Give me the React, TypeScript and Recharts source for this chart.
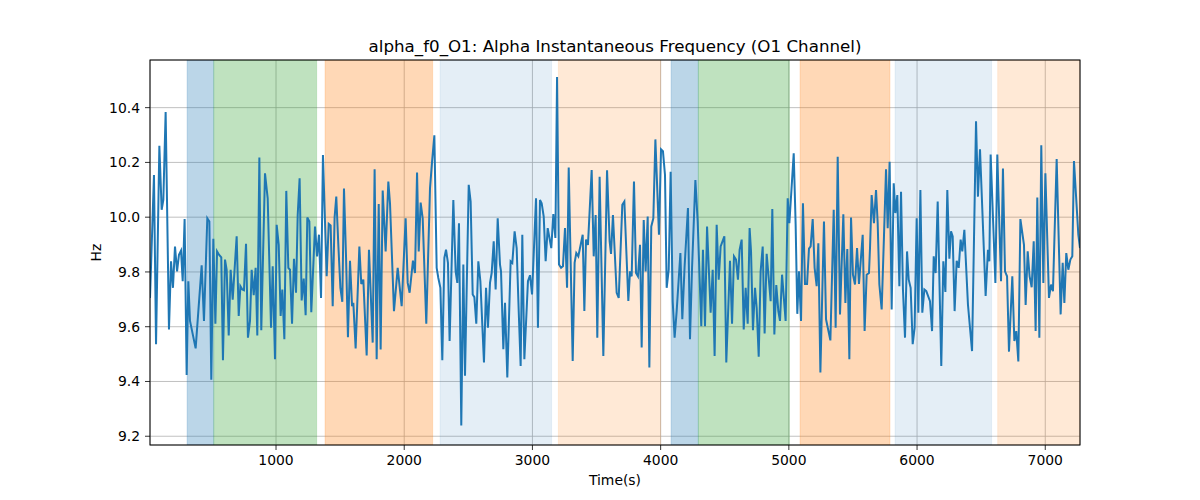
import React from "react";
import { LineChart, Line, XAxis, YAxis, CartesianGrid, ReferenceArea } from "recharts";

const chartTitle = "alpha_f0_O1: Alpha Instantaneous Frequency (O1 Channel)";
const xLabel = "Time(s)";
const yLabel = "Hz";

const xTicks = [1000, 2000, 3000, 4000, 5000, 6000, 7000];
const yTicks = [9.2, 9.4, 9.6, 9.8, 10.0, 10.2, 10.4];
const xDomain: [number, number] = [17, 7271];
const yDomain: [number, number] = [9.168, 10.574];

// [time (s), frequency (Hz)]
const alphaF0Points: [number, number][] = [
  [17, 9.705], [48, 10.154], [64, 9.536], [90, 10.261], [108, 10.027], [121, 10.063], [139, 10.384], [165, 9.59], [181, 9.839], [196, 9.742],
  [212, 9.893], [228, 9.802], [243, 9.863], [259, 9.878], [272, 9.766], [287, 9.993], [303, 9.424], [316, 9.766], [329, 9.621], [373, 9.521],
  [420, 9.824], [438, 9.621], [464, 9.996], [480, 9.984], [495, 9.406], [511, 9.921], [527, 9.611], [540, 9.875], [555, 9.863], [573, 9.853],
  [586, 9.478], [602, 9.845], [615, 9.808], [631, 9.568], [646, 9.808], [662, 9.699], [693, 9.93], [709, 9.639], [722, 9.748], [737, 9.736],
  [750, 9.733], [766, 9.903], [781, 9.56], [797, 9.621], [810, 9.808], [826, 9.715], [841, 9.815], [854, 9.568], [870, 10.218], [885, 9.587],
  [914, 10.16], [935, 10.069],
  [961, 9.596], [974, 9.821], [992, 9.481], [1005, 9.972], [1021, 9.899], [1036, 9.639], [1049, 9.736], [1065, 9.554], [1080, 10.096], [1096, 9.815],
  [1109, 9.808], [1125, 9.611], [1140, 9.848], [1156, 9.724], [1169, 10.008], [1184, 10.142], [1200, 9.696], [1216, 9.776], [1231, 9.642], [1244, 9.999],
  [1260, 9.984], [1275, 9.653], [1304, 9.966], [1320, 9.857], [1335, 9.936], [1351, 9.705], [1366, 10.227], [1395, 9.784], [1411, 9.976], [1426, 9.97],
  [1442, 9.675], [1457, 10.0], [1470, 10.075], [1486, 9.899], [1502, 9.742], [1517, 9.691], [1530, 10.105], [1546, 9.857], [1561, 9.562], [1577, 9.841],
  [1593, 9.675], [1603, 9.687], [1621, 9.521], [1650, 9.893], [1665, 9.756], [1681, 9.772], [1707, 9.495], [1725, 9.881], [1754, 9.542], [1769, 10.175],
  [1785, 9.481], [1801, 10.048], [1816, 9.517], [1832, 10.097], [1855, 9.875], [1876, 10.13],
  [1889, 10.051], [1920, 9.657], [1949, 9.815], [1980, 9.675], [2011, 9.996], [2027, 9.76], [2042, 9.724], [2068, 9.841], [2084, 9.796], [2100, 10.163],
  [2113, 9.875], [2128, 10.053], [2144, 9.996], [2172, 9.611], [2201, 10.105], [2217, 10.202], [2235, 10.299], [2253, 9.815], [2266, 9.778], [2282, 9.742],
  [2297, 9.478], [2313, 9.851], [2326, 9.881], [2341, 9.833], [2354, 9.548], [2383, 10.063], [2401, 9.802], [2414, 9.76], [2427, 9.978], [2445, 9.239],
  [2461, 9.827], [2474, 9.421], [2503, 10.118], [2518, 10.057], [2534, 9.718], [2547, 9.708], [2562, 9.611], [2578, 9.839], [2594, 9.766], [2622, 9.469],
  [2638, 9.742], [2653, 9.596], [2669, 9.76], [2682, 9.796], [2698, 9.912], [2713, 9.736], [2729, 9.996], [2747, 9.827], [2755, 9.802], [2773, 9.518],
  [2786, 9.687], [2804, 9.415],
  [2830, 9.839], [2843, 9.833], [2861, 9.948], [2877, 9.887], [2893, 9.657], [2908, 9.457], [2921, 9.936], [2937, 9.481], [2965, 9.766], [2981, 9.788],
  [2997, 9.718], [3028, 10.069], [3043, 9.596], [3059, 10.063], [3072, 10.051], [3088, 10.002], [3103, 9.839], [3119, 9.96], [3147, 9.887], [3163, 10.011],
  [3179, 9.924], [3192, 10.512], [3207, 9.827], [3223, 9.815], [3238, 9.821], [3254, 9.96], [3270, 9.742], [3283, 10.181], [3314, 9.475], [3329, 9.833],
  [3342, 9.869], [3358, 9.857], [3392, 9.936], [3405, 9.657], [3418, 9.918], [3433, 9.899], [3462, 10.172], [3478, 9.857], [3493, 10.008], [3506, 9.56],
  [3524, 10.148], [3553, 9.493], [3582, 10.171], [3602, 9.912], [3613, 9.866], [3628, 10.008], [3657, 9.724], [3673, 9.705], [3701, 10.045], [3717, 10.057],
  [3748, 9.694], [3761, 9.802],
  [3774, 9.784], [3792, 10.13], [3808, 9.796], [3823, 9.784], [3839, 9.899], [3852, 9.524], [3868, 9.99], [3883, 9.802], [3899, 10.002], [3912, 9.451],
  [3927, 9.966], [3943, 9.996], [3959, 10.284], [3987, 9.936], [4003, 10.248], [4018, 10.241], [4034, 10.154], [4047, 9.742], [4063, 9.808], [4078, 10.166],
  [4094, 9.693], [4109, 9.56], [4125, 9.657], [4154, 9.869], [4169, 9.627], [4187, 9.821], [4213, 10.033], [4229, 9.554], [4245, 9.815], [4271, 10.136],
  [4289, 9.984], [4317, 9.602], [4330, 9.881], [4346, 9.602], [4362, 9.966], [4390, 9.651], [4406, 9.808], [4421, 9.493], [4437, 9.972], [4453, 9.772],
  [4468, 9.893], [4497, 9.93], [4512, 9.469], [4541, 9.841], [4557, 9.611], [4572, 9.857], [4588, 9.845], [4603, 9.772], [4616, 9.881], [4632, 9.918],
  [4648, 9.59], [4663, 9.742], [4679, 9.611], [4694, 9.96],
  [4705, 9.875], [4720, 9.587], [4736, 9.742], [4749, 9.669], [4765, 9.49], [4780, 9.802], [4796, 9.893], [4811, 9.575], [4827, 9.866], [4858, 9.693],
  [4871, 10.03], [4887, 9.572], [4902, 9.752], [4918, 9.657], [4931, 9.621], [4947, 9.79], [4975, 9.621], [4991, 10.069], [5004, 9.978], [5038, 10.233],
  [5053, 9.972], [5066, 9.647], [5079, 9.802], [5095, 9.621], [5110, 10.051], [5126, 9.756], [5142, 9.756], [5157, 9.885], [5170, 9.893], [5186, 9.993],
  [5201, 9.815], [5217, 9.748], [5230, 9.905], [5246, 9.433], [5274, 9.984], [5290, 9.627], [5324, 9.55], [5350, 10.027], [5365, 9.596], [5381, 10.221],
  [5399, 9.645], [5425, 10.011], [5441, 9.687], [5456, 9.884], [5472, 9.481], [5485, 9.999], [5500, 9.79], [5516, 9.754], [5532, 9.887], [5547, 9.756],
  [5576, 9.936], [5591, 9.584], [5607, 9.79], [5625, 9.796],
  [5633, 9.887], [5646, 10.081], [5664, 9.978], [5680, 10.099], [5693, 9.978], [5706, 9.754], [5724, 9.663], [5742, 9.93], [5758, 10.175], [5771, 9.96],
  [5786, 10.202], [5802, 9.663], [5818, 10.124], [5831, 10.015], [5846, 10.081], [5862, 9.748], [5875, 10.093], [5890, 9.736], [5906, 9.56], [5922, 9.875],
  [5935, 9.772], [5950, 9.742], [5966, 9.536], [5981, 9.596], [5997, 9.996], [6010, 9.651], [6026, 10.099], [6041, 9.651], [6057, 9.736], [6072, 9.73],
  [6101, 9.693], [6117, 9.584], [6130, 9.857], [6145, 9.796], [6161, 10.057], [6189, 9.457], [6205, 9.839], [6221, 9.727], [6236, 10.099], [6252, 9.848],
  [6265, 9.948], [6278, 9.93], [6293, 9.657], [6309, 9.841], [6325, 9.815], [6340, 9.918], [6353, 9.875], [6369, 9.954], [6397, 9.681], [6429, 9.511],
  [6460, 10.35], [6475, 10.075], [6491, 10.248], [6535, 9.712], [6553, 9.881], [6564, 9.839],
  [6574, 10.229], [6611, 9.76], [6626, 10.229], [6655, 9.766], [6670, 10.178], [6686, 9.802], [6702, 9.784], [6717, 9.509], [6743, 9.784], [6759, 9.548],
  [6774, 9.584], [6790, 9.473], [6806, 9.993], [6834, 9.899], [6847, 9.679], [6863, 9.875], [6878, 9.784], [6894, 9.744], [6910, 9.912], [6925, 9.584],
  [6938, 10.072], [6954, 9.56], [6969, 10.263], [6985, 9.76], [7001, 10.16], [7029, 9.705], [7045, 9.754], [7060, 9.73], [7089, 10.212], [7120, 9.645],
  [7136, 9.833], [7149, 9.687], [7164, 9.869], [7180, 9.808], [7196, 9.845], [7211, 9.857], [7224, 10.205], [7258, 9.936], [7271, 9.887],
];

// shaded segments
const bandStarts = [306, 514, 1382, 2279, 3202, 4081, 4294, 5087, 5828, 6629];
const bandEnds = [514, 1317, 2222, 3150, 4000, 4294, 5004, 5789, 6582, 7271];
const bandKinds = ["blue", "green", "orange", "lightblue", "lightorange", "blue", "green", "orange", "lightblue", "lightorange"];

const bandStyles: Record<string, { fill: string; opacity: number }> = {
  blue: { fill: "#1f77b4", opacity: 0.3 },
  green: { fill: "#2ca02c", opacity: 0.3 },
  orange: { fill: "#ff7f0e", opacity: 0.3 },
  lightblue: { fill: "#1f77b4", opacity: 0.12 },
  lightorange: { fill: "#ff7f0e", opacity: 0.17 },
};

const data = alphaF0Points.map(([t, hz]) => ({ t, hz }));

const FONT = "DejaVu Sans";

export default function App() {
  return (
    <div style={{ position: "absolute", left: 0, top: 0, width: 1200, height: 500, background: "#fff", fontFamily: FONT }}>
      <LineChart width={1200} height={500} data={data} margin={{ top: 60, right: 120, bottom: 25, left: 90 }}>
        {bandStarts.map((s, i) => (
          <ReferenceArea
            key={i}
            x1={s}
            x2={bandEnds[i]}
            fill={bandStyles[bandKinds[i]].fill}
            fillOpacity={bandStyles[bandKinds[i]].opacity}
            stroke={bandStyles[bandKinds[i]].fill}
            strokeOpacity={bandStyles[bandKinds[i]].opacity * 0.6}
            strokeWidth={1}
            ifOverflow="hidden"
          />
        ))}
        <CartesianGrid stroke="#b0b0b0" strokeWidth={0.8} />
        <XAxis
          dataKey="t"
          type="number"
          domain={xDomain}
          ticks={xTicks}
          allowDataOverflow
          height={30}
          axisLine={false}
          tickLine={{ stroke: "#000", strokeWidth: 0.8 }}
          tickSize={5}
          tickMargin={5}
          tick={{ fill: "#000", fontSize: 13.9, fontFamily: FONT }}
        />
        <YAxis
          type="number"
          domain={yDomain}
          ticks={yTicks}
          allowDataOverflow
          width={60}
          axisLine={false}
          tickLine={{ stroke: "#000", strokeWidth: 0.8 }}
          tickSize={5}
          tickMargin={5}
          tickFormatter={(v: number) => v.toFixed(1)}
          tick={{ fill: "#000", fontSize: 13.9, fontFamily: FONT }}
        />
        <Line
          type="linear"
          dataKey="hz"
          stroke="#1f77b4"
          strokeWidth={2}
          dot={false}
          isAnimationActive={false}
        />
      </LineChart>
      <svg width={1200} height={500} style={{ position: "absolute", left: 0, top: 0, pointerEvents: "none" }}>
        <rect x={150} y={60} width={930} height={385} fill="none" stroke="#000" strokeWidth={1} />
        <text x={615} y={52} textAnchor="middle" fontSize={16.7} fontFamily={FONT} fill="#000">
          {chartTitle}
        </text>
        <text x={615} y={485} textAnchor="middle" fontSize={13.9} fontFamily={FONT} fill="#000">
          {xLabel}
        </text>
        <text x={101} y={252.5} textAnchor="middle" fontSize={13.9} fontFamily={FONT} fill="#000" transform="rotate(-90 101 252.5)">
          {yLabel}
        </text>
      </svg>
    </div>
  );
}
